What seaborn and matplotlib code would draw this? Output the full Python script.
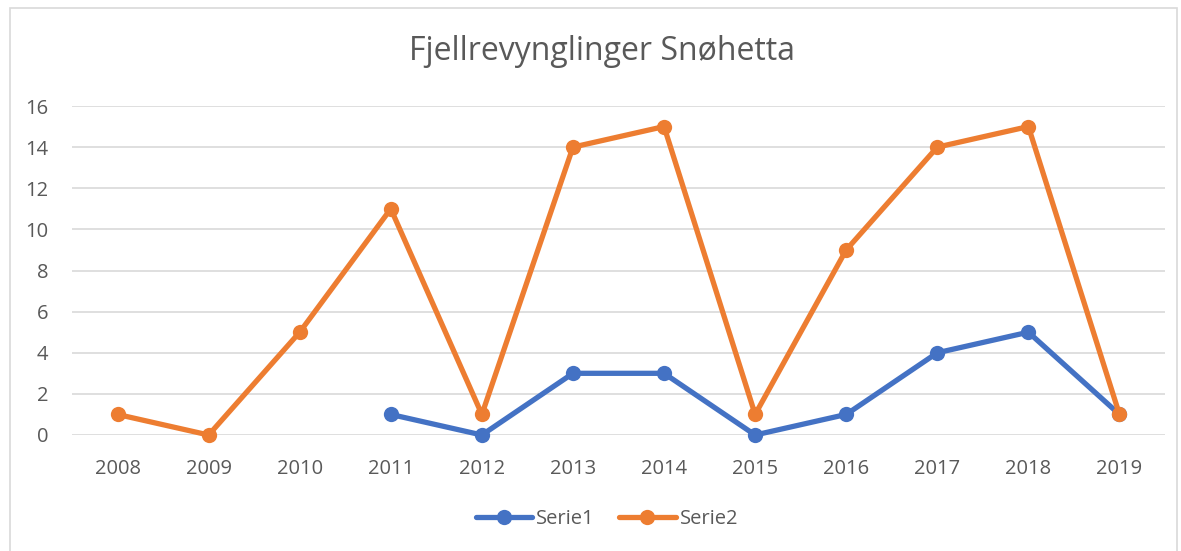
import numpy as np
import pandas as pd
import matplotlib.pyplot as plt
import matplotlib.patches as mpatches
import seaborn as sns

years = ["2008", "2009", "2010", "2011", "2012", "2013",
         "2014", "2015", "2016", "2017", "2018", "2019"]
serie1 = [np.nan, np.nan, np.nan, 1, 0, 3, 3, 0, 1, 4, 5, 1]
serie2 = [1, 0, 5, 11, 1, 14, 15, 1, 9, 14, 15, 1]

df = pd.DataFrame({"year": years, "Serie1": serie1, "Serie2": serie2})
long = df.melt(id_vars="year", var_name="serie", value_name="antall")

sns.set_style("white")
plt.rcParams['font.family'] = ['Open Sans', 'DejaVu Sans']
txt = "#595959"

fig = plt.figure(figsize=(11.81, 5.51), dpi=100)
ax = fig.add_axes([72 / 1181, 1 - 435 / 551, (1165 - 72) / 1181, (435 - 106) / 551])

# thin grey chart frame
fig.patches.append(mpatches.Rectangle((10 / 1181, -0.01), (1177 - 10) / 1181, 1 - 8 / 551 + 0.01,
                                      transform=fig.transFigure, fill=False,
                                      edgecolor="#D9D9D9", linewidth=1.2))

palette = {"Serie1": "#4472C4", "Serie2": "#ED7D31"}
sns.lineplot(data=long, x="year", y="antall", hue="serie", palette=palette,
             marker="o", markersize=11, markeredgewidth=0, linewidth=3.8,
             sort=False, ax=ax, clip_on=False)

ax.set_xlim(-0.5, 11.5)
ax.set_ylim(0, 16)
ax.set_yticks(range(0, 17, 2))
ax.grid(axis="y", color="#D9D9D9", linewidth=1.2)
ax.set_axisbelow(True)
for s in ax.spines.values():
    s.set_visible(False)
ax.tick_params(axis="both", length=0, labelsize=14.5, labelcolor=txt)
ax.tick_params(axis="x", pad=17)
ax.tick_params(axis="y", pad=17)
ax.set_xlabel("")
ax.set_ylabel("")

fig.text(602 / 1181, 1 - 52 / 551, "Fjellrevynglinger Snøhetta", ha="center",
         va="center", fontsize=23, color=txt)

ax.legend_.remove()
handles, labels = ax.get_legend_handles_labels()
leg = fig.legend(handles, labels, loc="center", bbox_to_anchor=(607 / 1181, 1 - 519 / 551),
                 ncol=2, frameon=False, fontsize=14.5, labelcolor=txt,
                 handlelength=2.8, handletextpad=0.2, columnspacing=1.2)

fig.savefig("out.png", dpi=100)
